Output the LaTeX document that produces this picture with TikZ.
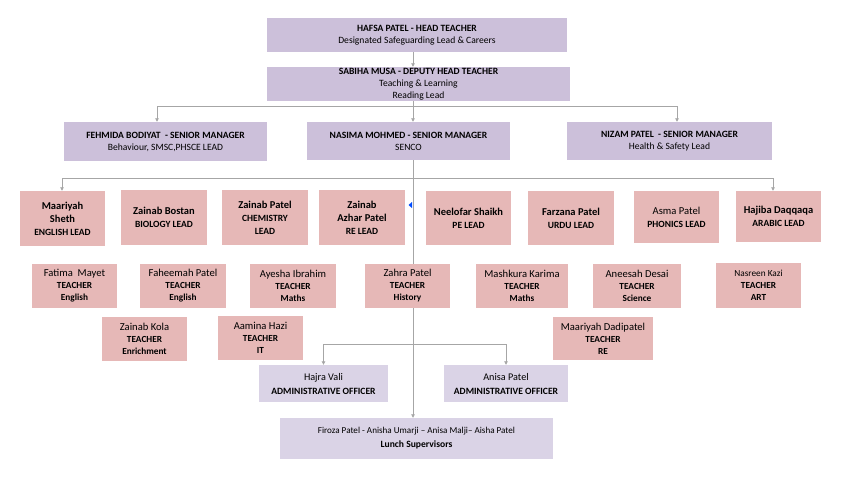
\documentclass[tikz,border=0pt]{standalone}
\usepackage{fontspec}
\setmainfont{Carlito}
\usetikzlibrary{arrows.meta,calc,backgrounds}
\definecolor{lav}{HTML}{CCC0DA}
\definecolor{lavlt}{HTML}{DAD3E6}
\definecolor{pinkb}{HTML}{E6B8B7}
\definecolor{linec}{HTML}{A6A6A6}
\newcommand{\nmB}[1]{{\fontsize{10.5}{13}\selectfont\bfseries #1}}
\newcommand{\nmR}[1]{{\fontsize{10.6}{12.5}\selectfont #1}}
\newcommand{\rlB}[1]{{\fontsize{9.5}{13}\selectfont\bfseries #1}}
\newcommand{\tcB}[1]{{\fontsize{9.3}{12}\selectfont\bfseries #1}}
\tikzset{
  bx/.style={draw=none, inner sep=0pt, align=center, text=black},
  topbox/.style={bx, fill=lav, font=\fontsize{9.6}{12}\selectfont},
  ltbox/.style={bx, fill=lavlt, font=\fontsize{9.1}{14}\selectfont},
  leadbox/.style={bx, fill=pinkb, font=\fontsize{9.5}{13}\selectfont},
  tchbox/.style={bx, fill=pinkb, font=\fontsize{9.3}{12}\selectfont},
  conn/.style={draw=linec, line width=0.8pt},
  arr/.style={conn, -{Triangle[width=3.5pt,length=3.5pt]}},
}
\begin{document}
\begin{tikzpicture}[x=1pt,y=-1pt]
\useasboundingbox (0,0) rectangle (853,480);
% top
\node[topbox, minimum width=300pt, minimum height=34pt] (head) at (417,35)
  {\textbf{HAFSA PATEL - HEAD TEACHER}\\Designated Safeguarding Lead \& Careers};
\node[topbox, minimum width=303pt, minimum height=34pt] (deputy) at (418.5,84)
  {\textbf{SABIHA MUSA - DEPUTY HEAD TEACHER}\\Teaching \& Learning\\Reading Lead};
\node[topbox, minimum width=203pt, minimum height=39pt] (fehmida) at (165.5,141.5)
  {\textbf{FEHMIDA BODIYAT\ \ - SENIOR MANAGER}\\Behaviour, SMSC,PHSCE LEAD};
\node[topbox, minimum width=203pt, minimum height=38pt] (nasima) at (408.5,141)
  {\textbf{NASIMA MOHMED - SENIOR MANAGER}\\SENCO};
\node[topbox, minimum width=205pt, minimum height=38pt] (nizam) at (669.5,141)
  {\textbf{NIZAM PATEL\ \ - SENIOR MANAGER}\\Health \& Safety Lead};
% leads
\node[leadbox, minimum width=85pt, minimum height=55pt] (maariyah) at (62.5,218.5)
  {\nmB{Maariyah}\\\nmB{Sheth}\\\rlB{ENGLISH LEAD}};
\node[leadbox, minimum width=86pt, minimum height=55pt] (bostan) at (164,217.5)
  {\nmB{Zainab Bostan}\\\rlB{BIOLOGY LEAD}};
\node[leadbox, minimum width=86pt, minimum height=55pt] (zpatel) at (265,217.5)
  {\nmB{Zainab Patel}\\\rlB{CHEMISTRY}\\\rlB{LEAD}};
\node[leadbox, minimum width=86pt, minimum height=55pt] (azhar) at (362,217.5)
  {\nmB{Zainab}\\\nmB{Azhar Patel}\\\rlB{RE LEAD}};
\node[leadbox, minimum width=85pt, minimum height=54pt] (neelofar) at (468.5,218)
  {\nmB{Neelofar Shaikh}\\\rlB{PE LEAD}};
\node[leadbox, minimum width=86pt, minimum height=54pt] (farzana) at (571,218)
  {\nmB{Farzana Patel}\\\rlB{URDU LEAD}};
\node[leadbox, minimum width=85pt, minimum height=52pt] (asma) at (676.5,217)
  {\nmR{Asma Patel}\\\rlB{PHONICS LEAD}};
\node[leadbox, minimum width=85pt, minimum height=51pt] (hajiba) at (778.5,216.5)
  {\nmB{Hajiba Daqqaqa}\\\rlB{ARABIC LEAD}};
% teachers
\node[tchbox, minimum width=85pt, minimum height=44pt] (fatima) at (74.5,286)
  {\nmR{Fatima\ \ Mayet}\\\tcB{TEACHER}\\\tcB{English}};
\node[tchbox, minimum width=86pt, minimum height=44pt] (faheemah) at (183,286)
  {\nmR{Faheemah Patel}\\\tcB{TEACHER}\\\tcB{English}};
\node[tchbox, minimum width=86pt, minimum height=44pt] (ayesha) at (293,286)
  {\nmR{Ayesha Ibrahim}\\\tcB{TEACHER}\\\tcB{Maths}};
\node[tchbox, minimum width=85pt, minimum height=44pt] (zahra) at (407.5,286)
  {\nmR{Zahra Patel}\\\tcB{TEACHER}\\\tcB{History}};
\node[tchbox, minimum width=92pt, minimum height=44pt] (mashkura) at (522,286)
  {\nmR{Mashkura Karima}\\\tcB{TEACHER}\\\tcB{Maths}};
\node[tchbox, minimum width=88pt, minimum height=44pt] (aneesah) at (637,286)
  {\nmR{Aneesah Desai}\\\tcB{TEACHER}\\\tcB{Science}};
\node[tchbox, minimum width=85pt, minimum height=45pt] (nasreen) at (758.5,285.5)
  {{\fontsize{9.3}{12}\selectfont Nasreen Kazi}\\\tcB{TEACHER}\\\tcB{ART}};
\node[tchbox, minimum width=85pt, minimum height=44pt] (kola) at (144.5,339)
  {\nmR{Zainab Kola}\\\tcB{TEACHER}\\\tcB{Enrichment}};
\node[tchbox, minimum width=85pt, minimum height=44pt] (aamina) at (260.5,338)
  {\nmR{Aamina Hazi}\\\tcB{TEACHER}\\\tcB{IT}};
\node[tchbox, minimum width=100pt, minimum height=43pt] (dadipatel) at (603,338.5)
  {\nmR{Maariyah Dadipatel}\\\tcB{TEACHER}\\\tcB{RE}};
% admin
\node[ltbox, minimum width=129pt, minimum height=37pt] (hajra) at (323.5,383.5)
  {{\fontsize{10.2}{13}\selectfont Hajra Vali}\\{\fontsize{9.6}{13}\selectfont\bfseries ADMINISTRATIVE OFFICER}};
\node[ltbox, minimum width=124pt, minimum height=37pt] (anisa) at (506,383.5)
  {{\fontsize{10.2}{13}\selectfont Anisa Patel}\\{\fontsize{9.6}{13}\selectfont\bfseries ADMINISTRATIVE OFFICER}};
\node[ltbox, minimum width=273pt, minimum height=41pt] (lunch) at (416.5,438.5)
  {Firoza Patel - Anisha Umarji – Anisa Malji– Aisha Patel\\{\fontsize{9.6}{14}\selectfont\bfseries Lunch Supervisors}};
% coordinates
\coordinate (spine) at (413,0);
\coordinate (bA) at (0,106);
\coordinate (bB) at (0,178);
\coordinate (bC) at (0,344);
\coordinate (fa) at (157,0);
\coordinate (za) at (677,0);
\coordinate (ma) at (62,0);
\coordinate (ha) at (773,0);
% connectors (behind boxes)
\begin{scope}[on background layer]
\draw[arr] (head.south -| spine) -- (deputy.north -| spine);
\draw[conn] (deputy.south -| spine) -- (bA -| spine);
\draw[conn] (bA -| fa) -- (bA -| za);
\draw[arr] (bA -| fa) -- (fehmida.north -| fa);
\draw[arr] (bA -| spine) -- (nasima.north -| spine);
\draw[arr] (bA -| za) -- (nizam.north -| za);
\draw[arr] (nasima.south -| spine) -- (lunch.north -| spine);
\draw[conn] (bB -| ma) -- (bB -| ha);
\draw[arr] (bB -| ma) -- (maariyah.north -| ma);
\draw[arr] (bB -| ha) -- (hajiba.north -| ha);
\draw[conn] (bC -| hajra.north) -- (bC -| anisa.north);
\draw[arr] (bC -| hajra.north) -- (hajra.north);
\draw[arr] (bC -| anisa.north) -- (anisa.north);
\end{scope}
% small blue marker
\fill[blue!70!cyan] (408.5,205) -- (412,202) -- (412,208) -- cycle;
\end{tikzpicture}
\end{document}
